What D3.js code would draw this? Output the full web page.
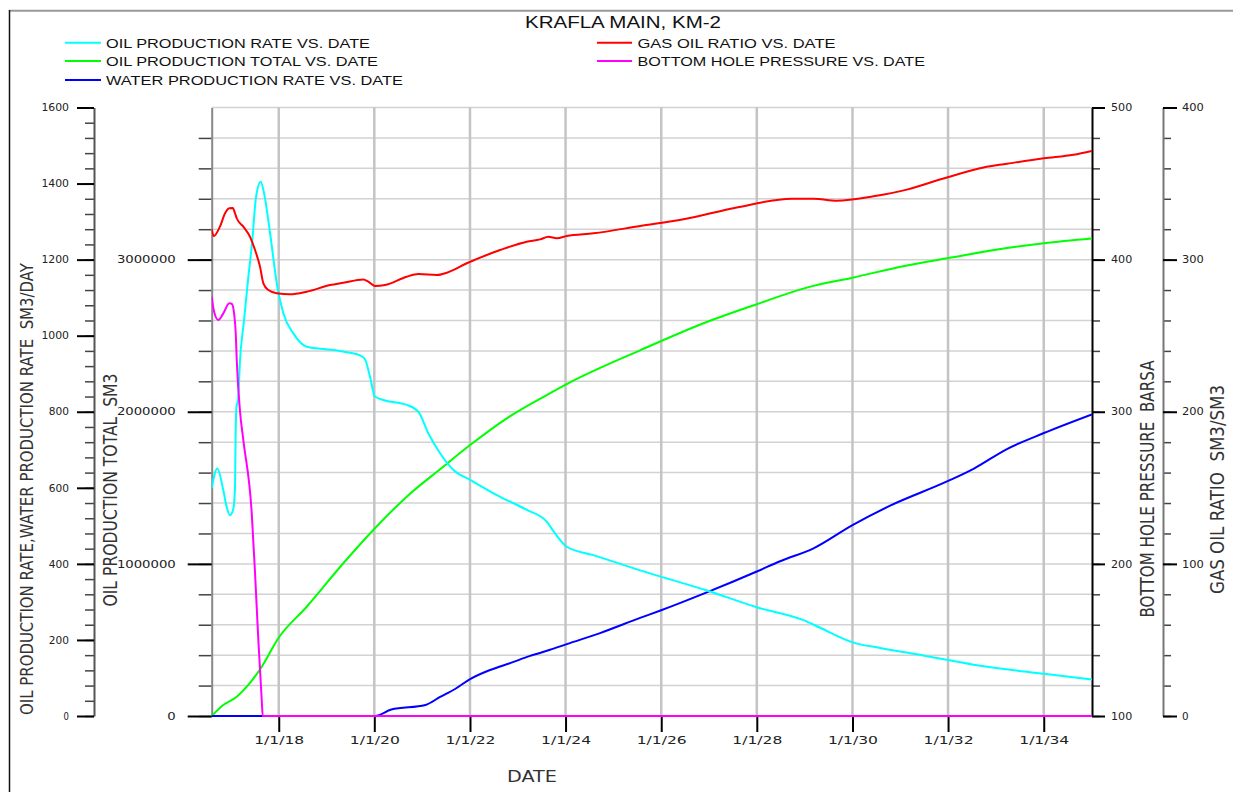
<!DOCTYPE html>
<html><head><meta charset="utf-8">
<script src="https://cdn.jsdelivr.net/npm/d3@7"></script>
<style>body{margin:0;background:#fff;} svg{display:block;}</style>
</head><body>
<svg id="c" width="1233" height="792"></svg>
<script>
// ---------------- DATA ----------------
const chartTitle = "KRAFLA MAIN, KM-2";
const xTickYears = [2018, 2020, 2022, 2024, 2026, 2028, 2030, 2032, 2034];
const xTickLabels = ["1/1/18", "1/1/20", "1/1/22", "1/1/24", "1/1/26", "1/1/28", "1/1/30", "1/1/32", "1/1/34"];
const rateTicks = [0, 200, 400, 600, 800, 1000, 1200, 1400, 1600];
const totalTicks = [0, 1000000, 2000000, 3000000];
const pressureTicks = [100, 200, 300, 400, 500];
const gorTicks = [0, 100, 200, 300, 400];

// [decimal year, value]
const oilRate = [[2016.598,599],[2016.715,651],[2016.84,594],[2016.91,550],[2016.98,528],[2017.05,545],[2017.085,600],
  [2017.096,725],[2017.117,815],[2017.148,830],[2017.19,936],[2017.274,1041],[2017.357,1146],[2017.441,1243],
  [2017.525,1365],[2017.623,1405],[2017.692,1375],[2017.818,1270],[2017.97,1129],[2018.096,1059],[2018.305,1006],
  [2018.585,971],[2018.926,965],[2019.282,960],[2019.491,955],[2019.7,948],[2019.805,938],[2019.91,892],
  [2020.014,840],[2020.188,831],[2020.678,818],[2020.92,800],[2021.13,743],[2021.374,691],[2021.653,647],
  [2022.002,621],[2022.56,581],[2023.188,542],[2023.606,511],[2023.78,480],[2024.025,445],[2024.581,423],
  [2025.558,383],[2026.953,330],[2028.0,286],[2028.975,252],[2029.324,232],[2030.02,193],[2030.58,179],
  [2031.485,159],[2032.531,135],[2034.004,111],[2035.01,96]];

const gasOilRatio = [[2016.598,320],[2016.64,315.5],[2016.77,321.7],[2016.877,330.5],[2016.966,333.8],[2017.037,334],
  [2017.085,330.5],[2017.121,327.2],[2017.259,321.7],[2017.399,315],[2017.504,306.3],[2017.608,295.4],
  [2017.678,284.4],[2017.782,280],[2017.958,277.9],[2018.236,277.2],[2018.585,278.9],[2019.073,283.3],
  [2019.351,284.8],[2019.77,287],[2019.874,285.5],[2020.014,282.7],[2020.223,283.3],[2020.678,288.8],
  [2020.92,290.5],[2021.305,289.9],[2021.514,291.4],[2021.933,297.6],[2022.63,306.3],[2023.188,311.8],
  [2023.466,313.3],[2023.64,315],[2023.816,314],[2024.025,315.5],[2024.581,317.3],[2025.558,322.1],
  [2026.464,326.5],[2027.581,334.3],[2028.732,340],[2029.184,340],[2029.673,338.7],[2030.439,341.6],
  [2031.138,346],[2031.903,353.3],[2032.74,360.6],[2033.23,363],[2034.004,366.6],[2034.623,369],[2035.01,371.5]];

const oilTotal = [[2016.598,0],[2016.84,72000],[2017.121,127000],[2017.364,204000],[2017.644,324000],[2017.991,511000],
  [2018.585,718000],[2019.351,1004000],[2019.979,1223000],[2020.678,1442000],[2021.374,1622000],[2022.002,1781000],
  [2022.77,1957000],[2023.606,2110000],[2024.025,2182000],[2025.558,2404000],[2026.953,2590000],[2028.0,2707000],
  [2029.046,2816000],[2030.0,2881000],[2031.138,2962000],[2032.002,3010000],[2033.23,3076000],[2034.004,3108000],
  [2035.01,3139000]];

const waterRate = [[2016.598,0],[2020.014,0],[2020.355,17],[2021.067,29],[2021.374,50],[2021.688,71],[2022.002,97],
  [2022.42,121],[2022.839,139],[2023.257,158],[2023.675,174],[2024.025,189],[2024.721,218],[2025.558,258],
  [2025.998,278],[2026.953,325],[2028.0,380],[2028.487,407],[2029.184,441],[2030.0,502],[2030.788,553],
  [2032.002,618],[2032.531,650],[2033.23,702],[2034.004,744],[2035.01,793]];

const bottomHolePressure = [[2016.598,375.6],[2016.64,366.9],[2016.736,360.3],[2016.841,364.7],[2016.966,371.3],
  [2017.016,371],[2017.065,364.7],[2017.1,351.6],[2017.121,334],[2017.19,300],[2017.259,281.4],[2017.435,233.2],
  [2017.504,193.8],[2017.573,150],[2017.644,110.5],[2017.665,100],[2035.01,100]];

// ---------------- LAYOUT ----------------
const svg = d3.select("#c");
const L = 211.7, R = 1092, T = 107.5, B = 716;
const FNUM = "DejaVu Sans", FTXT = "Liberation Sans, Arial, sans-serif";

function yd(y) { const yr = Math.floor(y); const s = Date.UTC(yr,0,1), e = Date.UTC(yr+1,0,1); return new Date(s + (y-yr)*(e-s)); }

const x = d3.scaleUtc([yd(2016.598), yd(2035.01)], [L, R]);
const yRate = d3.scaleLinear([0,1600], [B,T]);
const yTotal = d3.scaleLinear([0,4000000], [B,T]);
const yPres = d3.scaleLinear([100,500], [B,T]);
const yGor = d3.scaleLinear([0,400], [B,T]);

// frame
svg.append("line").attr("x1",9.5).attr("x2",1233).attr("y1",10.7).attr("y2",10.7).attr("stroke","#999").attr("stroke-width",2);
svg.append("line").attr("x1",9.5).attr("x2",9.5).attr("y1",10).attr("y2",792).attr("stroke","#111").attr("stroke-width",1.5);

// grid
const grid = svg.append("g");
grid.selectAll("line.h").data(d3.range(0, 4000001, 200000)).join("line")
  .attr("x1",L).attr("x2",R).attr("y1",d=>yTotal(d)).attr("y2",d=>yTotal(d))
  .attr("stroke","#d2d2d2").attr("stroke-width",1.5);
grid.selectAll("line.v").data(xTickYears).join("line")
  .attr("x1",d=>x(yd(d))).attr("x2",d=>x(yd(d))).attr("y1",T).attr("y2",B)
  .attr("stroke","#c4c4c4").attr("stroke-width",2.5);

// bottom axis line
svg.append("line").attr("x1",L).attr("x2",R).attr("y1",B).attr("y2",B).attr("stroke","#777").attr("stroke-width",1.5);

function fitText(sel, perChar, minus) {
  sel.each(function(){ const t=d3.select(this); const s=t.text(); t.attr("textLength", s.length*perChar - minus).attr("lengthAdjust","spacingAndGlyphs"); });
}
function styleAxis(g, domainColor) {
  g.select(".domain").attr("stroke",domainColor).attr("stroke-width",2);
  g.selectAll(".tick line").attr("stroke","#000").attr("stroke-width",2);
  g.selectAll(".tick text").attr("font-family",FNUM).attr("font-size",10).attr("fill","#222");
}
function minor(axisGen, tx, ty, vals, size) {
  const g = svg.append("g").attr("transform",`translate(${tx},${ty})`)
    .call(axisGen.tickValues(vals).tickSize(size).tickFormat(()=>""));
  g.select(".domain").remove();
  g.selectAll(".tick line").attr("stroke","#444").attr("stroke-width",1.5);
}

// rate axis (left outer)
minor(d3.axisLeft(yRate), 94, 0, d3.range(0,1601,40), 9);
const gRate = svg.append("g").attr("transform","translate(94,0)")
  .call(d3.axisLeft(yRate).tickValues(rateTicks).tickSize(17).tickSizeOuter(0).tickPadding(8).tickFormat(d3.format("d")));
styleAxis(gRate, "#555");
fitText(gRate.selectAll(".tick text"), 7.4, 2);

// total axis (left inner)
minor(d3.axisLeft(yTotal), L, 0, d3.range(0,3800001,200000), 13);
const gTot = svg.append("g").attr("transform",`translate(${L},0)`)
  .call(d3.axisLeft(yTotal).tickValues(totalTicks).tickSize(24).tickSizeOuter(0).tickPadding(12).tickFormat(d3.format("d")));
styleAxis(gTot, "#888");
fitText(gTot.selectAll(".tick text"), 8.4, 0);

// pressure axis (right inner)
minor(d3.axisRight(yPres), R, 0, d3.range(100,501,20), 8);
const gPres = svg.append("g").attr("transform",`translate(${R},0)`)
  .call(d3.axisRight(yPres).tickValues(pressureTicks).tickSize(13).tickSizeOuter(0).tickPadding(6).tickFormat(d3.format("d")));
styleAxis(gPres, "#000");
fitText(gPres.selectAll(".tick text"), 7.4, 1);

// GOR axis (right outer)
minor(d3.axisRight(yGor), 1163, 0, d3.range(0,401,20), 8);
const gGor = svg.append("g").attr("transform","translate(1163,0)")
  .call(d3.axisRight(yGor).tickValues(gorTicks).tickSize(14).tickSizeOuter(0).tickPadding(5).tickFormat(d3.format("d")));
styleAxis(gGor, "#777");
fitText(gGor.selectAll(".tick text"), 7.6, 1);

// x axis
const gX = svg.append("g").attr("transform",`translate(0,${B})`)
  .call(d3.axisBottom(x).tickValues(xTickYears.map(yd)).tickSize(16).tickSizeOuter(0).tickPadding(5)
    .tickFormat((d,i)=>xTickLabels[i]));
gX.select(".domain").remove();
gX.selectAll(".tick line").attr("stroke","#000").attr("stroke-width",2);
gX.selectAll(".tick text").attr("font-family",FNUM).attr("font-size",10).attr("fill","#222")
  .attr("textLength",50).attr("lengthAdjust","spacingAndGlyphs");

// axis titles
function vtitle(text, xb, yc, len, size) {
  svg.append("text").attr("transform",`translate(${xb},${yc}) rotate(-90)`)
    .attr("text-anchor","middle").attr("font-family",FNUM).attr("font-size",size).attr("fill","#333")
    .attr("textLength",len).attr("lengthAdjust","spacingAndGlyphs").style("white-space","pre").text(text);
}
vtitle("OIL PRODUCTION RATE,WATER PRODUCTION RATE  SM3/DAY", 33.3, 489, 452, 18);
vtitle("OIL PRODUCTION TOTAL  SM3", 116.7, 490, 233, 19);
vtitle("BOTTOM HOLE PRESSURE  BARSA", 1154, 489, 257, 19);
vtitle("GAS OIL RATIO  SM3/SM3", 1224, 489.5, 209, 19);
svg.append("text").attr("x",532).attr("y",781.7).attr("text-anchor","middle").attr("font-family",FNUM)
  .attr("font-size",16).attr("fill","#333").attr("textLength",50).attr("lengthAdjust","spacingAndGlyphs").text("DATE");

// title & legend
svg.append("text").attr("x",525).attr("y",28.3).attr("font-family",FTXT).attr("font-size",16.3).attr("fill","#111")
  .attr("textLength",196).attr("lengthAdjust","spacingAndGlyphs").text(chartTitle);

const legendItems = [
  {name:"OIL PRODUCTION RATE VS. DATE", color:"#00ffff", x1:65, x2:101, tx:106, y:42.7, len:264},
  {name:"OIL PRODUCTION TOTAL VS. DATE", color:"#00ff00", x1:65, x2:101, tx:106, y:61, len:272},
  {name:"WATER PRODUCTION RATE VS. DATE", color:"#0000ff", x1:65, x2:101, tx:106, y:80, len:297},
  {name:"GAS OIL RATIO VS. DATE", color:"#ff0000", x1:597, x2:632, tx:637.5, y:42.7, len:198},
  {name:"BOTTOM HOLE PRESSURE VS. DATE", color:"#ff00ff", x1:597, x2:632, tx:637.5, y:61, len:287.5}
];
const lg = svg.append("g");
lg.selectAll("line").data(legendItems).join("line")
  .attr("x1",d=>d.x1).attr("x2",d=>d.x2).attr("y1",d=>d.y).attr("y2",d=>d.y)
  .attr("stroke",d=>d.color).attr("stroke-width",2);
lg.selectAll("text").data(legendItems).join("text")
  .attr("x",d=>d.tx).attr("y",d=>d.y+4.8).attr("font-family",FTXT).attr("font-size",13).attr("fill","#111")
  .attr("textLength",d=>d.len).attr("lengthAdjust","spacingAndGlyphs").text(d=>d.name);

// curves
svg.append("clipPath").attr("id","plotclip").append("rect").attr("x",L).attr("y",T-5).attr("width",R-L).attr("height",B-T+7);
const plot = svg.append("g").attr("clip-path","url(#plotclip)");
function drawSeries(data, yScale, color) {
  const line = d3.line().x(d=>x(yd(d[0]))).y(d=>yScale(d[1])).curve(d3.curveMonotoneX);
  plot.append("path").datum(data).attr("d",line).attr("fill","none").attr("stroke",color).attr("stroke-width",2);
}
drawSeries(oilTotal, yTotal, "#00ff00");
drawSeries(waterRate, yRate, "#0000ff");
drawSeries(oilRate, yRate, "#00ffff");
drawSeries(gasOilRatio, yGor, "#ff0000");
drawSeries(bottomHolePressure, yPres, "#ff00ff");
</script>
</body></html>
